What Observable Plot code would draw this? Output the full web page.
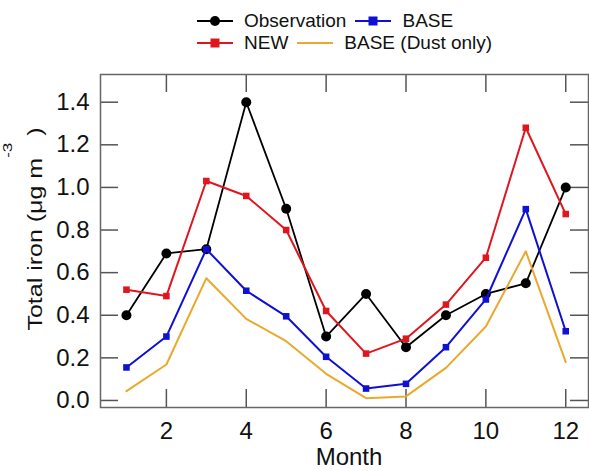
<!DOCTYPE html>
<html>
<head>
<meta charset="utf-8">
<script src="https://cdn.jsdelivr.net/npm/d3@7"></script>
<script src="https://cdn.jsdelivr.net/npm/@observablehq/plot@0.6"></script>
<style>
  html, body { margin: 0; padding: 0; background: #fff; }
  body { width: 589px; height: 471px; overflow: hidden; font-family: "Liberation Sans", Arial, sans-serif; }
  #legend { position: relative; height: 60px; width: 589px; font-size: 19px; color: #111; }
  .row { position: absolute; left: 197px; display: flex; align-items: center; height: 22px; white-space: nowrap; }
  .item { display: flex; align-items: center; margin-right: 9px; }
  .item svg { margin-right: 11px; }
  #chart svg { display: block; }
</style>
</head>
<body>
<div id="legend"></div>
<div id="chart"></div>
<script>
// ---- Data ----
const months = [1, 2, 3, 4, 5, 6, 7, 8, 9, 10, 11, 12];
const observation = [0.40, 0.69, 0.71, 1.40, 0.90, 0.30, 0.50, 0.25, 0.40, 0.50, 0.55, 1.00];
const newModel    = [0.52, 0.49, 1.03, 0.96, 0.80, 0.42, 0.22, 0.29, 0.45, 0.67, 1.28, 0.875];
const base        = [0.155, 0.30, 0.71, 0.515, 0.395, 0.205, 0.056, 0.078, 0.25, 0.474, 0.898, 0.325];
const baseDust    = [0.044, 0.169, 0.574, 0.383, 0.278, 0.125, 0.011, 0.019, 0.153, 0.347, 0.70, 0.18];
const xTicks = [2, 4, 6, 8, 10, 12];
const yTicks = [0.0, 0.2, 0.4, 0.6, 0.8, 1.0, 1.2, 1.4];

const colors = {"Observation": "#000000", "NEW": "#e0161f", "BASE": "#1010d2", "BASE (Dust only)": "#e9a92c"};

const toRows = (vals) => months.map((m, i) => ({month: m, value: vals[i]}));
const obsRows = toRows(observation);
const newRows = toRows(newModel);
const baseRows = toRows(base);
const dustRows = toRows(baseDust);

// ---- Legend (HTML, above the SVG) ----
function swatch(color, marker) {
  let m = "";
  if (marker === "circle") m = `<circle cx="18" cy="7" r="5" fill="${color}"/>`;
  if (marker === "square") m = `<rect x="13.5" y="2.5" width="9" height="9" fill="${color}"/>`;
  return `<svg width="36" height="14"><line x1="0" x2="36" y1="7" y2="7" stroke="${color}" stroke-width="2"/>${m}</svg>`;
}
const legendRows = [
  {top: 10, items: [["Observation", "circle"], ["BASE", "square"]]},
  {top: 32, items: [["NEW", "square"], ["BASE (Dust only)", null]]}
];
const legend = document.getElementById("legend");
legendRows.forEach(r => {
  const row = document.createElement("div");
  row.className = "row";
  row.style.top = r.top + "px";
  row.innerHTML = r.items.map(([name, mk]) =>
    `<span class="item">${swatch(colors[name], mk)}<span>${name}</span></span>`).join("");
  legend.appendChild(row);
});

// ---- Chart ----
const W = 589, H = 411;
const mL = 100, mR = 1, mT = 14, mB = 64;
const TICK = 18;
const innerW = W - mL - mR, innerH = H - mT - mB;
const axisColor = "#555";
const FONT = "'Liberation Sans', Arial, sans-serif";

const chart = Plot.plot({
  width: W, height: H,
  marginLeft: mL, marginRight: mR, marginTop: mT, marginBottom: mB,
  style: {fontFamily: FONT, fontSize: "24px", color: "#111", background: "#fff"},
  x: {domain: [0.35, 12.57]},
  y: {domain: [-0.033, 1.53]},
  marks: [
    Plot.axisX({ticks: xTicks, tickSize: 0, tickPadding: 14, label: null, tickFormat: d => String(d), fontSize: 24}),
    Plot.axisY({ticks: yTicks, tickSize: 0, tickPadding: 11, label: null, tickFormat: d3.format(".1f"), fontSize: 24}),
    // inward ticks on all four sides
    Plot.tickY(yTicks, {y: d => d, insetRight: innerW - TICK, stroke: axisColor, strokeWidth: 1.5}),
    Plot.tickY(yTicks, {y: d => d, insetLeft: innerW - TICK, stroke: axisColor, strokeWidth: 1.5}),
    Plot.tickX(xTicks, {x: d => d, insetTop: innerH - TICK, stroke: axisColor, strokeWidth: 1.5}),
    Plot.tickX(xTicks, {x: d => d, insetBottom: innerH - TICK, stroke: axisColor, strokeWidth: 1.5}),
    Plot.frame({stroke: "#666", strokeWidth: 1.5}),
    // series
    Plot.line(obsRows, {x: "month", y: "value", stroke: colors["Observation"], strokeWidth: 1.8}),
    Plot.dot(obsRows, {x: "month", y: "value", fill: colors["Observation"], r: 5, symbol: "circle"}),
    Plot.line(dustRows, {x: "month", y: "value", stroke: colors["BASE (Dust only)"], strokeWidth: 2}),
    Plot.line(newRows, {x: "month", y: "value", stroke: colors["NEW"], strokeWidth: 2}),
    Plot.dot(newRows, {x: "month", y: "value", fill: colors["NEW"], r: 3.7, symbol: "square"}),
    Plot.line(baseRows, {x: "month", y: "value", stroke: colors["BASE"], strokeWidth: 2}),
    Plot.dot(baseRows, {x: "month", y: "value", fill: colors["BASE"], r: 3.7, symbol: "square"})
  ]
});
document.getElementById("chart").appendChild(chart);

// axis titles
const svg = d3.select(chart);
svg.append("text")
  .attr("x", mL + innerW / 2 + 5).attr("y", 405)
  .attr("text-anchor", "middle")
  .attr("font-family", FONT)
  .attr("font-size", 24).attr("fill", "#111")
  .text("Month");
const yl = svg.append("text")
  .attr("transform", `translate(42,169) rotate(-90) scale(1,0.8)`)
  .attr("text-anchor", "middle")
  .attr("font-family", FONT)
  .attr("font-size", 25).attr("fill", "#111");
yl.append("tspan").text("Total iron (μg m");
yl.append("tspan").attr("dy", -38).attr("font-size", 17).text("-3");
yl.append("tspan").attr("dy", 38).text(" )");
</script>
</body>
</html>
